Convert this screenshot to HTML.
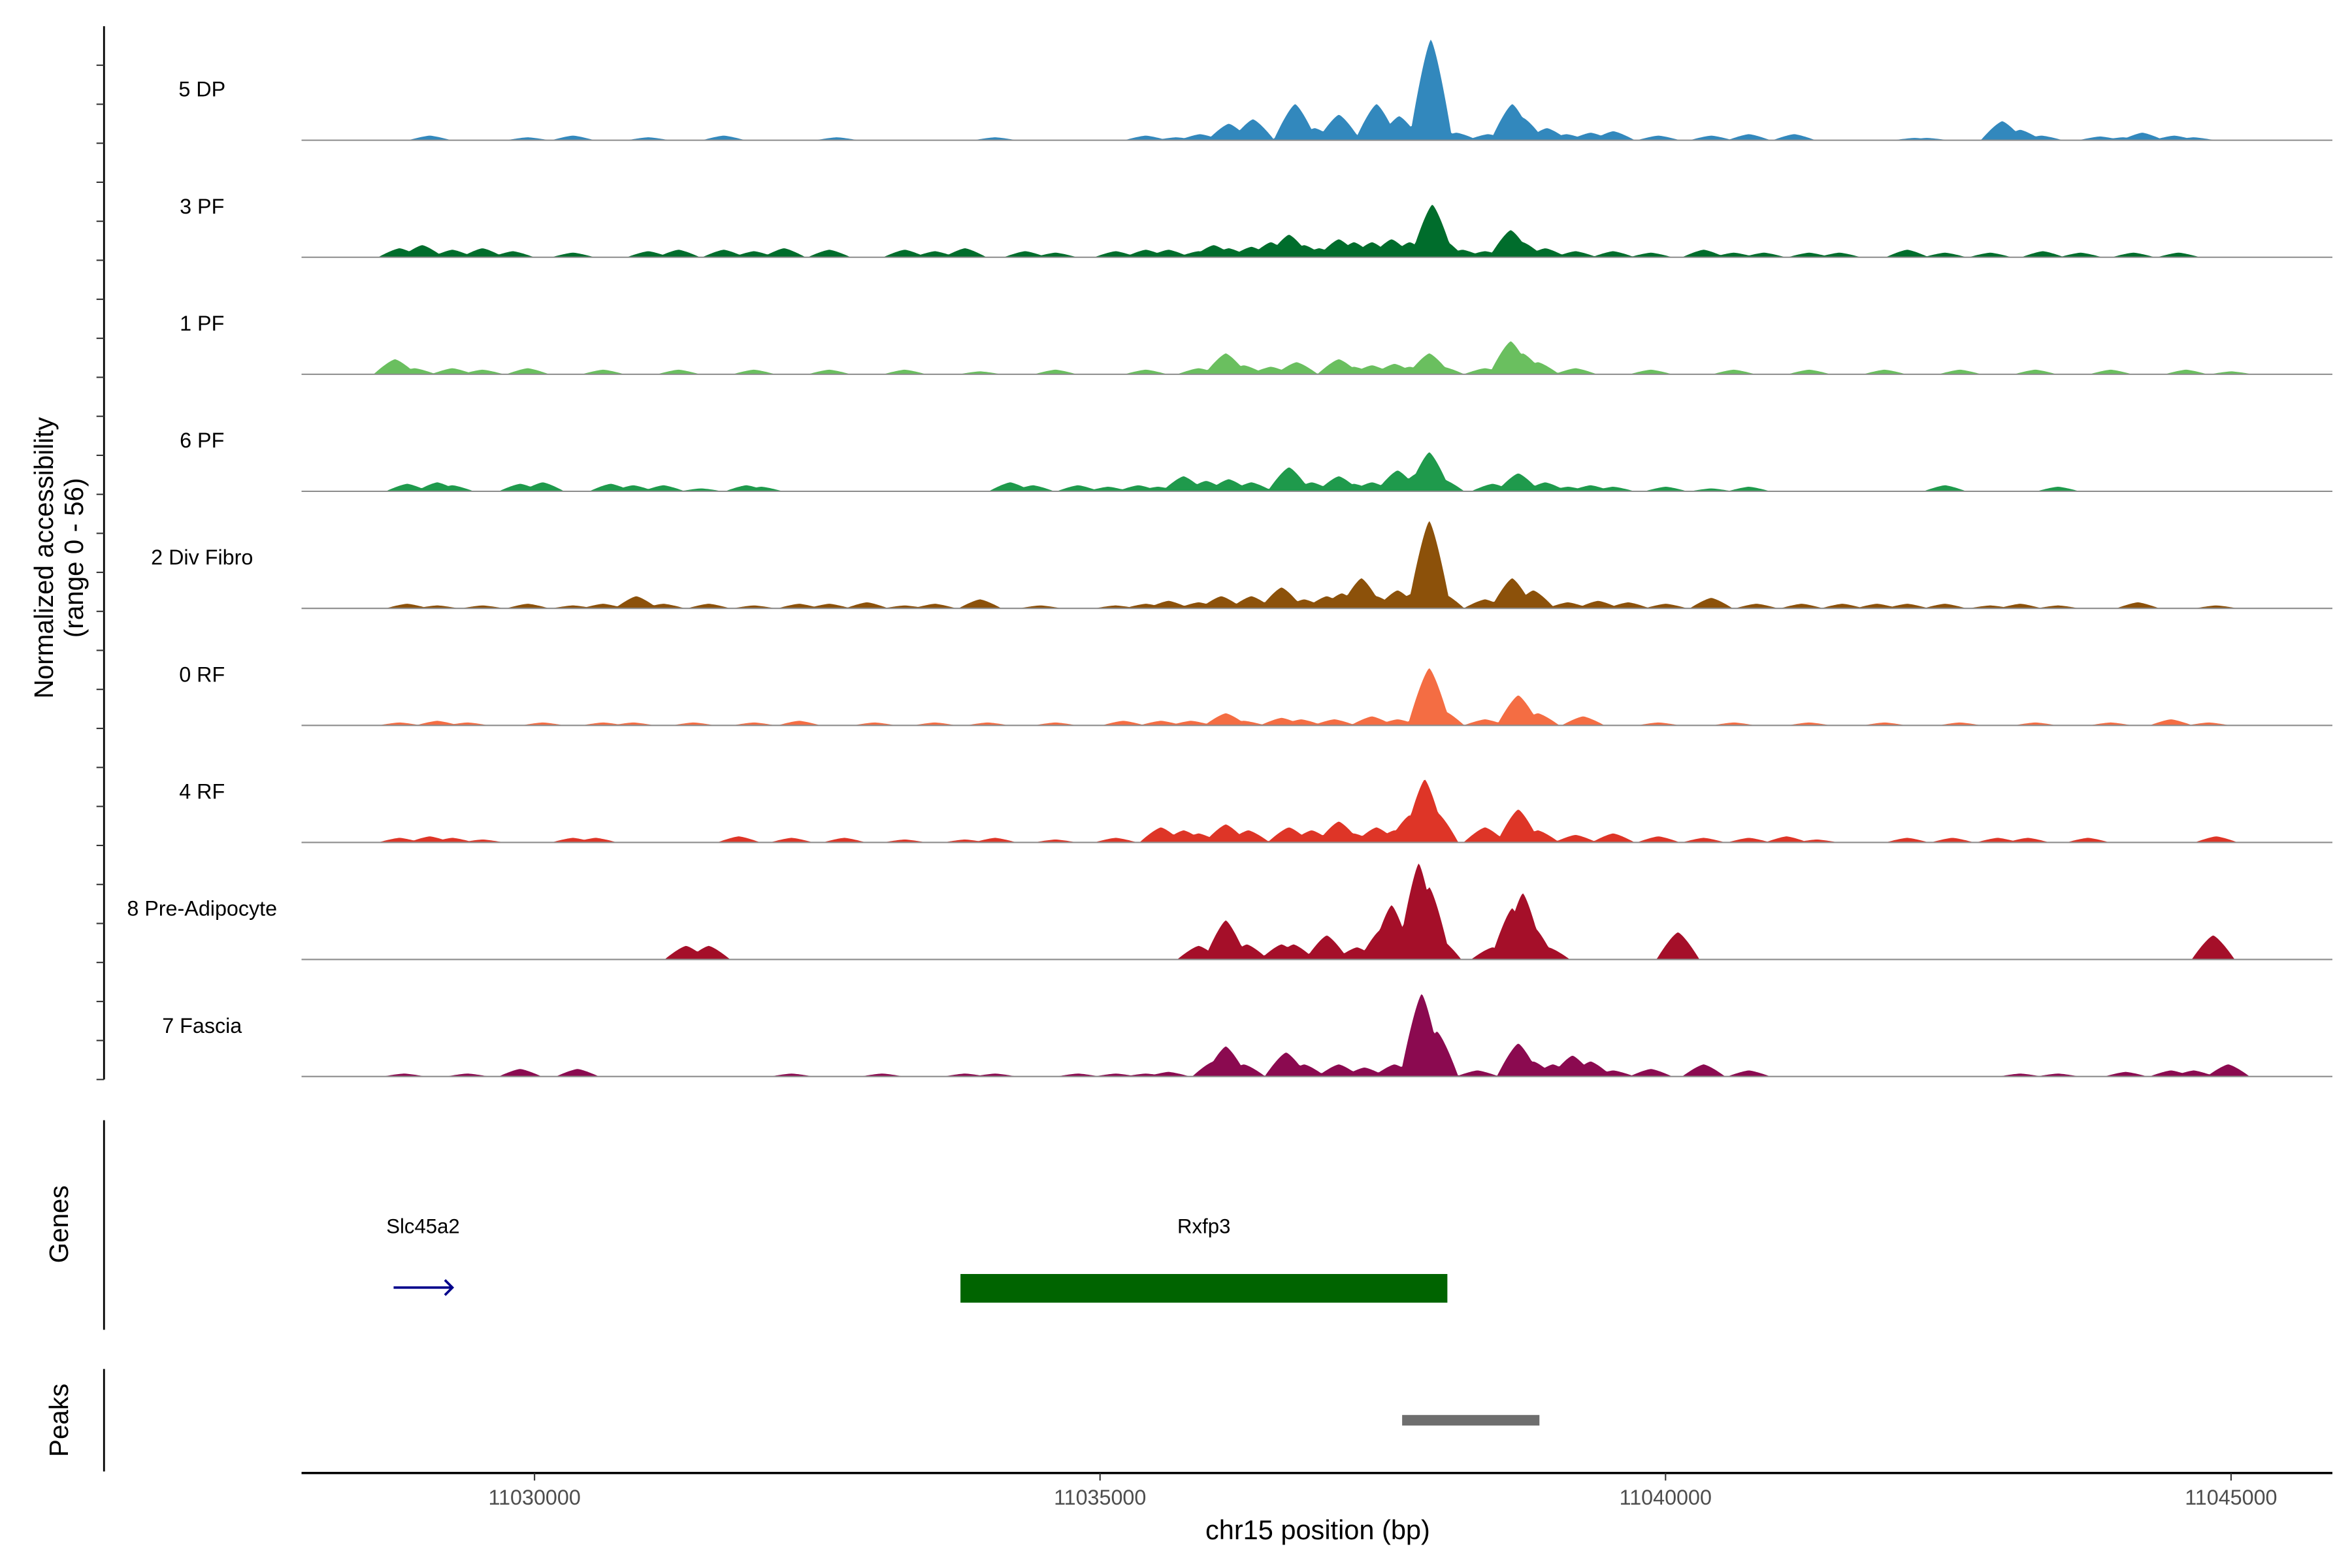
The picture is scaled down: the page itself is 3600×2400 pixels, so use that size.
<!DOCTYPE html>
<html><head><meta charset="utf-8"><style>
html,body{margin:0;padding:0;background:#fff;}
svg{display:block;font-family:"Liberation Sans",Arial,sans-serif;}
</style></head><body>
<svg id="chart" width="3600" height="2400" viewBox="0 0 1560 1040" xmlns="http://www.w3.org/2000/svg">
<g id="tracks"></g>
<g id="axes"></g>
</svg>
<script>
// ---- data ----
const trackNames = ["5 DP","3 PF","1 PF","6 PF","2 Div Fibro","0 RF","4 RF","8 Pre-Adipocyte","7 Fascia"];
const trackColors = ["#3288bd","#006d2c","#6abf5f","#1f9a4c","#8c510a","#f46d43","#de3527","#a50f29","#8b0a50"];
const yRangeMax = 56;
const xTicks = [11030000,11035000,11040000,11045000];
const xDomain = [11027940,11045896];

const pos_dp5 = [11029074,11029940,11030340,11031006,11031673,11032673,11034072,11035405,11035672,11035885,11036139,11036352,11036725,11036898,11037112,11037445,11037645,11037778,11037925,11038151,11038431,11038645,11038738,11038951,11039124,11039338,11039538,11039937,11040404,11040737,11041137,11042203,11042310,11042977,11043136,11043323,11043843,11044043,11044216,11044496,11044670];
const val_dp5 = [2.2,1.4,2.2,1.4,2.2,1.4,1.4,2.2,1.4,2.9,7.9,10,17.3,5.8,12.2,17.3,11.5,7.2,48.2,3.6,2.9,17.3,10.8,5.8,2.9,3.6,4.3,2.2,2.2,2.9,2.9,1.1,1.1,9.1,5,2.2,1.8,1.4,3.6,2.2,1.4];

const pos_pf3 = [11028807,11029007,11029274,11029540,11029807,11030340,11031006,11031273,11031673,11031940,11032206,11032606,11033273,11033539,11033806,11034339,11034606,11035139,11035405,11035605,11035872,11036005,11036138,11036338,11036511,11036671,11036805,11036938,11037111,11037245,11037404,11037578,11037738,11037938,11038031,11038204,11038404,11038631,11038738,11038937,11039204,11039537,11039870,11040337,11040604,11040870,11041270,11041537,11042137,11042470,11042870,11043336,11043670,11044136,11044536];
const val_pf3 = [4.3,5.8,3.6,4.3,2.9,2.2,2.9,3.6,3.6,2.9,4.3,3.6,3.6,2.9,4.3,2.9,2.2,2.9,3.6,3.6,2.9,5.8,4.3,5,7.2,10.8,5.8,4.3,8.6,7.2,7.2,8.6,7.2,25.2,8.6,3.6,2.9,13,7.2,4.3,2.9,2.9,2.2,3.6,2.2,2.2,2.2,2.2,3.6,2.2,2.2,2.9,2.2,2.2,2.2];

const pos_pf1 = [11028767,11028940,11029274,11029540,11029940,11030607,11031273,11031940,11032606,11033273,11033939,11034606,11035405,11035872,11036112,11036272,11036511,11036738,11037111,11037245,11037404,11037604,11037738,11037911,11038031,11038404,11038631,11038738,11038871,11039204,11039870,11040604,11041270,11041937,11042603,11043270,11043936,11044602,11045002];
const val_pf1 = [7.2,2.9,2.9,2.2,2.9,2.2,2.2,2.2,2.2,2.2,1.4,2.2,2.2,2.9,10,4.3,3.6,5.8,7.2,3.6,4.3,5,3.6,10,3.6,2.9,15.8,10,5.8,2.9,2.2,2.2,2.2,2.2,2.2,2.2,2.2,2.2,1.4];

const pos_pf6 = [11028874,11029140,11029274,11029873,11030073,11030673,11030873,11031140,11031473,11031873,11032006,11034206,11034406,11034806,11035072,11035339,11035512,11035738,11035938,11036138,11036338,11036671,11036871,11037111,11037245,11037404,11037631,11037804,11037911,11038031,11038471,11038698,11038937,11039137,11039337,11039537,11040003,11040404,11040737,11042470,11043470];
const val_pf6 = [3.6,4.3,2.9,3.6,4.3,3.6,2.9,2.9,1.4,2.9,2.2,4.3,2.9,2.9,2.2,2.9,2.2,7.2,5,5.8,4.3,11.5,4.3,7.2,3.6,4.3,10,8.6,18.7,5.8,3.6,8.6,4.3,2.2,2.9,2.2,2.2,1.4,2.2,2.9,2.2];

const pos_div2 = [11028874,11029140,11029540,11029940,11030340,11030607,11030900,11031140,11031540,11031940,11032339,11032606,11032939,11033273,11033539,11033939,11034472,11035139,11035405,11035605,11035872,11036072,11036338,11036605,11036805,11037005,11037138,11037311,11037444,11037631,11037764,11037911,11038031,11038404,11038644,11038831,11039137,11039404,11039670,11040003,11040404,11040804,11041204,11041564,11041870,11042137,11042470,11042870,11043136,11043470,11044176,11044869];
const val_div2 = [2.2,1.4,1.4,2.2,1.4,2.2,5.8,2.2,2.2,1.4,2.2,2.2,2.9,1.4,2.2,4.3,1.4,1.4,2.2,3.6,2.9,5.8,5.8,10,4.3,5.8,7.2,14.4,5.8,8.6,7.2,41.8,7.2,4.3,14.4,8.6,2.9,3.6,2.9,2.2,5,2.2,2.2,2.2,2.2,2.2,2.2,1.4,2.2,1.4,2.9,1.4];

const pos_rf0 = [11028807,11029140,11029407,11030073,11030607,11030873,11031406,11031940,11032339,11033006,11033539,11034006,11034606,11035206,11035539,11035805,11036112,11036272,11036605,11036778,11037071,11037404,11037631,11037911,11038031,11038404,11038698,11038871,11039271,11039937,11040604,11041270,11041937,11042603,11043270,11043936,11044469,11044802];
const val_rf0 = [1.4,2.2,1.4,1.4,1.4,1.4,1.4,1.4,2.2,1.4,1.4,1.4,1.4,2.2,2.2,2.2,5.8,2.2,3.6,2.9,2.9,4.3,2.9,27.4,7.2,2.9,14.4,5.8,4.3,1.4,1.4,1.4,1.4,1.4,1.4,1.4,2.9,1.4];

const pos_rf4 = [11028807,11029074,11029274,11029540,11030340,11030540,11031806,11032273,11032739,11033273,11033806,11034072,11034606,11035139,11035539,11035739,11035872,11036112,11036311,11036671,11036871,11037111,11037245,11037444,11037604,11037738,11037871,11037978,11038404,11038698,11038871,11039204,11039537,11039937,11040337,11040737,11041070,11041337,11042137,11042537,11042937,11043203,11043736,11044869];
const val_rf4 = [2.2,2.9,2.2,1.4,2.2,2.2,2.9,2.2,2.2,1.4,1.4,2.2,1.4,2.2,7.2,5.8,4.3,8.6,5.8,7.2,5.8,10,4.3,7.2,5.8,13,30.2,14.4,7.2,15.8,5.8,3.6,4.3,2.9,2.2,2.2,2.9,1.4,2.2,2.2,2.2,2.2,2.2,2.9];

const pos_pad8 = [11031340,11031540,11035872,11036112,11036298,11036605,11036711,11037005,11037271,11037484,11037578,11037818,11037911,11038004,11038471,11038644,11038738,11038831,11038964,11040110,11044842];
const val_pad8 = [6.5,6.5,6.5,18.7,7.2,7.2,7.2,11.5,5.8,14.4,26,46,34.6,10,5.8,24.5,31.7,15.8,5.8,13,11.5];

const pos_fas7 = [11028847,11029407,11029873,11030380,11032273,11033073,11033806,11034072,11034806,11035139,11035405,11035605,11036005,11036112,11036272,11036645,11036805,11037111,11037338,11037604,11037844,11037978,11038337,11038698,11038831,11039004,11039177,11039337,11039537,11039870,11040337,11040737,11043136,11043470,11044069,11044469,11044669,11044975];
const val_fas7 = [1.4,1.4,3.6,3.6,1.4,1.4,1.4,1.4,1.4,1.4,1.4,2.2,7.2,14.4,5.8,11.5,5.8,5.8,4.3,5.8,39.6,21.6,2.9,15.8,7.2,5.8,10,7.2,2.9,3.6,5.8,2.9,1.4,1.4,2.2,2.9,2.9,5.8];

const trackPos = [pos_dp5,pos_pf3,pos_pf1,pos_pf6,pos_div2,pos_rf0,pos_rf4,pos_pad8,pos_fas7];
const trackVal = [val_dp5,val_pf3,val_pf1,val_pf6,val_div2,val_rf0,val_rf4,val_pad8,val_fas7];

const geneNames = ["Slc45a2","Rxfp3"];
const geneStart = [11028754,11033766];
const geneEnd = [11029274,11038071];
const peakStart = [11037671];
const peakEnd = [11038885];

// ---- layout ----
const NS = "http://www.w3.org/2000/svg";
const X0 = 200, X1 = 1547;
const firstBase = 93, trackStep = 77.625;
function xs(bp){ return X0 + (bp - xDomain[0]) / (xDomain[1] - xDomain[0]) * (X1 - X0); }
function ys(v, base){ return base - v / yRangeMax * trackStep; }
function mk(tag, attrs, parent){ const e = document.createElementNS(NS, tag); for (const k in attrs) e.setAttribute(k, attrs[k]); parent.appendChild(e); return e; }

const gT = document.getElementById('tracks');
const gA = document.getElementById('axes');
const HW = 190;

trackNames.forEach((name, i) => {
  const base = firstBase + i * trackStep;
  const pos = trackPos[i], val = trackVal[i];
  const g = mk('g', {}, gT);
  
  
  let d = 'M' + X0 + ',' + base;
  for (let bp = xDomain[0]; bp <= xDomain[1]; bp += 12) {
    let v = 0;
    for (let k = 0; k < pos.length; k++) {
      const u = Math.abs(bp - pos[k]) / HW;
      if (u < 1) v = Math.max(v, val[k] * (1 - Math.pow(u, 1.3)));
    }
    d += 'L' + xs(bp).toFixed(2) + ',' + ys(v, base).toFixed(2);
  }
  d += 'L' + X1 + ',' + base + 'Z';
  const area = mk('path', {d: d, fill: trackColors[i], stroke: 'none'}, g);
  
  
  const bl = mk('line', {x1: X0, x2: X1, y1: base, y2: base, stroke: '#8c8c8c', 'stroke-width': 0.9}, g);
  
  
  const lab = mk('text', {x: 134, y: base - 29, 'font-size': 14, 'text-anchor': 'middle', fill: '#000'}, g);
  lab.textContent = name;
  
  
});

// left y axis for coverage
const yl = mk('line', {x1: 69, x2: 69, y1: firstBase - trackStep + 2, y2: firstBase + 8 * trackStep + 2, stroke: '#000', 'stroke-width': 1.2}, gA);


for (let i = 0; i < trackNames.length; i++) {
  const base = firstBase + i * trackStep;
  for (let k = 0; k < 3; k++) {
    const y = base - k * trackStep / 3 + 2;
    const t = mk('line', {x1: 64, x2: 69, y1: y, y2: y, stroke: '#333', 'stroke-width': 0.9}, gA);
    
    
  }
}
const yt = mk('text', {transform: 'translate(35,370) rotate(-90)', 'font-size': 17.5, 'text-anchor': 'middle', fill: '#000'}, gA);


const ts1 = mk('tspan', {x: 0, dy: 0}, yt); ts1.textContent = 'Normalized accessibility';
const ts2 = mk('tspan', {x: 0, dy: 20}, yt); ts2.textContent = '(range 0 - 56)';

// genes panel
const gl = mk('line', {x1: 69, x2: 69, y1: 743, y2: 882, stroke: '#000', 'stroke-width': 1.2}, gA);


const gtt = mk('text', {transform: 'translate(45,812) rotate(-90)', 'font-size': 17.5, 'text-anchor': 'middle', fill: '#000'}, gA);
gtt.textContent = 'Genes';


geneNames.forEach((n, i) => {
  const x1 = xs(geneStart[i]), x2 = xs(geneEnd[i]);
  const lab = mk('text', {x: (x1 + x2) / 2, y: 818, 'font-size': 13.5, 'text-anchor': 'middle', fill: '#000'}, gA);
  lab.textContent = n;
  
  
  if (i === 0) {
    const ar = mk('path', {d: 'M' + x1 + ',854 L' + x2 + ',854 M' + (x2 - 5) + ',849 L' + x2 + ',854 L' + (x2 - 5) + ',859', stroke: '#00008b', 'stroke-width': 1.6, fill: 'none'}, gA);
    
    
  } else {
    const r = mk('rect', {x: x1, y: 845, width: x2 - x1, height: 19, fill: '#006400'}, gA);
    
    
  }
});

// peaks panel
const pl = mk('line', {x1: 69, x2: 69, y1: 908, y2: 976, stroke: '#000', 'stroke-width': 1.2}, gA);


const ptt = mk('text', {transform: 'translate(45,942) rotate(-90)', 'font-size': 17.5, 'text-anchor': 'middle', fill: '#000'}, gA);
ptt.textContent = 'Peaks';


peakStart.forEach((s, i) => {
  const r = mk('rect', {x: xs(s), y: 938.5, width: xs(peakEnd[i]) - xs(s), height: 7, fill: '#6e6e6e'}, gA);
  
  
});

// x axis
const xl = mk('line', {x1: X0, x2: X1, y1: 977, y2: 977, stroke: '#000', 'stroke-width': 1.5}, gA);


xTicks.forEach(t => {
  const x = xs(t);
  const tk = mk('line', {x1: x, x2: x, y1: 977, y2: 982, stroke: '#333', 'stroke-width': 0.9}, gA);
  
  
  const lb = mk('text', {x: x, y: 998, 'font-size': 14, 'text-anchor': 'middle', fill: '#4d4d4d'}, gA);
  lb.textContent = String(t);
  
  
});
const xt = mk('text', {x: 874, y: 1021, 'font-size': 18, 'text-anchor': 'middle', fill: '#000'}, gA);
xt.textContent = 'chr15 position (bp)';


</script>
</body></html>
